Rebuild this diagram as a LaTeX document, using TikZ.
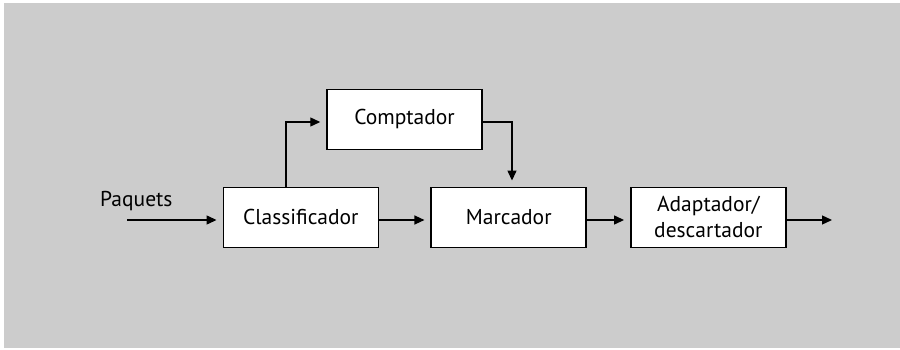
\documentclass[tikz,border=0pt]{standalone}
\usepackage{fontspec}
\setmainfont{PT Sans}
\usetikzlibrary{arrows.meta}
\definecolor{panelgray}{HTML}{CCCCCC}
\begin{document}
\begin{tikzpicture}[x=1pt,y=-1pt,
  blockbox/.style={draw=black, line width=1.5pt, fill=white,
    minimum width=155pt, minimum height=60pt, inner sep=0pt,
    font=\fontsize{21.5}{26}\selectfont, align=center},
  flow/.style={line width=1.3pt, shorten >=6pt,
    -{Triangle[length=10pt,width=9pt]}},
  label/.style={font=\fontsize{21.5}{26}\selectfont, inner sep=0pt}]
\useasboundingbox (0,0) rectangle (900,350);
\fill[white] (0,0) rectangle (900,350);
\fill[panelgray] (4,3) rectangle (900,348);

% blocks
\node[blockbox] (cls) at (300.8,217.3) {Classificador};
\node[blockbox] (cnt) at (404.5,119.3) {Comptador};
\node[blockbox] (mrc) at (508.7,217.3) {Marcador};
\node[blockbox] (adp) at (708.3,217.3) {Adaptador/\\descartador};

% helper points for the connectors
\coordinate (lvl) at (0,220);
\coordinate (src) at (127,220);
\coordinate (sink) at (838,220);
\coordinate (split) at (286,122);
\coordinate (drop) at (512,122);

\node[label, anchor=base west] (pq) at (100,206) {Paquets};

% main flow
\draw[flow] (src) -- (cls.west |- lvl);
\draw[flow] (cls.east |- lvl) -- (mrc.west |- lvl);
\draw[flow] (mrc.east |- lvl) -- (adp.west |- lvl);
\draw[flow] (adp.east |- lvl) -- (sink);

% branch through the counter
\draw[flow] (split |- cls.north) -- (split) -- (cnt.west |- split);
\draw[flow] (cnt.east |- drop) -- (drop) -- (drop |- mrc.north);
\end{tikzpicture}
\end{document}
